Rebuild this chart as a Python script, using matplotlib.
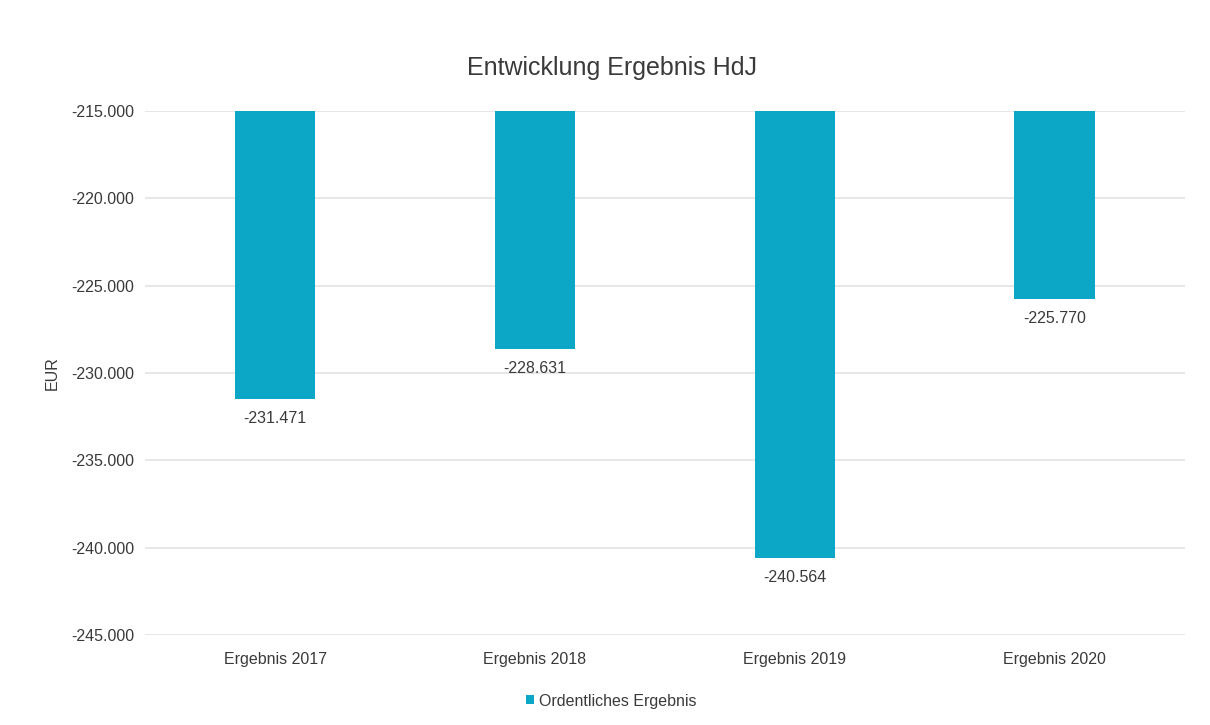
import matplotlib.pyplot as plt
from matplotlib.ticker import FuncFormatter
import numpy as np

categories = ['Ergebnis 2017', 'Ergebnis 2018', 'Ergebnis 2019', 'Ergebnis 2020']
ergebnis = [-231471, -228631, -240564, -225770]
y_ticks = [-245000, -240000, -235000, -230000, -225000, -220000, -215000]

BAR_COLOR = '#0CA7C6'
TEXT_COLOR = '#3A3A3A'
FS = 11.5


def de_format(v, pos=None):
    # German thousands separator
    s = '{:,.0f}'.format(v).replace(',', '.')
    return s


plt.rcParams['font.family'] = ['Liberation Sans', 'DejaVu Sans']

fig = plt.figure(figsize=(12.1, 7.25), dpi=100)
ax = fig.add_axes([0.12, 0.124, 0.859, 0.723])

top = y_ticks[-1]
x = np.arange(len(categories))
heights = [v - top for v in ergebnis]
ax.bar(x, heights, width=0.31, bottom=top, color=BAR_COLOR, zorder=3,
       label='Ordentliches Ergebnis')

for xi, v in zip(x, ergebnis):
    ax.text(xi, v - 700, de_format(v), ha='center', va='top',
            fontsize=FS, color=TEXT_COLOR, zorder=4)

ax.set_xlim(-0.5, len(categories) - 0.5)
ax.set_ylim(y_ticks[0], y_ticks[-1])
ax.set_yticks(y_ticks)
ax.yaxis.set_major_formatter(FuncFormatter(de_format))
ax.set_xticks(x)
ax.set_xticklabels(categories)
ax.grid(axis='y', color='#E3E3E3', linewidth=1.2, zorder=0)
ax.tick_params(length=0, labelsize=FS, labelcolor=TEXT_COLOR)
ax.tick_params(axis='x', pad=12)
ax.tick_params(axis='y', pad=8)
for s in ax.spines.values():
    s.set_visible(False)

ax.set_ylabel('EUR', fontsize=FS, color=TEXT_COLOR, labelpad=8)
fig.text(0.506, 0.906, 'Entwicklung Ergebnis HdJ', ha='center', va='center',
         fontsize=18, color=TEXT_COLOR)

fig.legend(loc='center', bbox_to_anchor=(0.505, 0.033), frameon=False,
           fontsize=FS, handlelength=0.5, handleheight=0.5,
           handletextpad=0.3, labelcolor=TEXT_COLOR)

fig.savefig('out.png', dpi=100, facecolor='white')
